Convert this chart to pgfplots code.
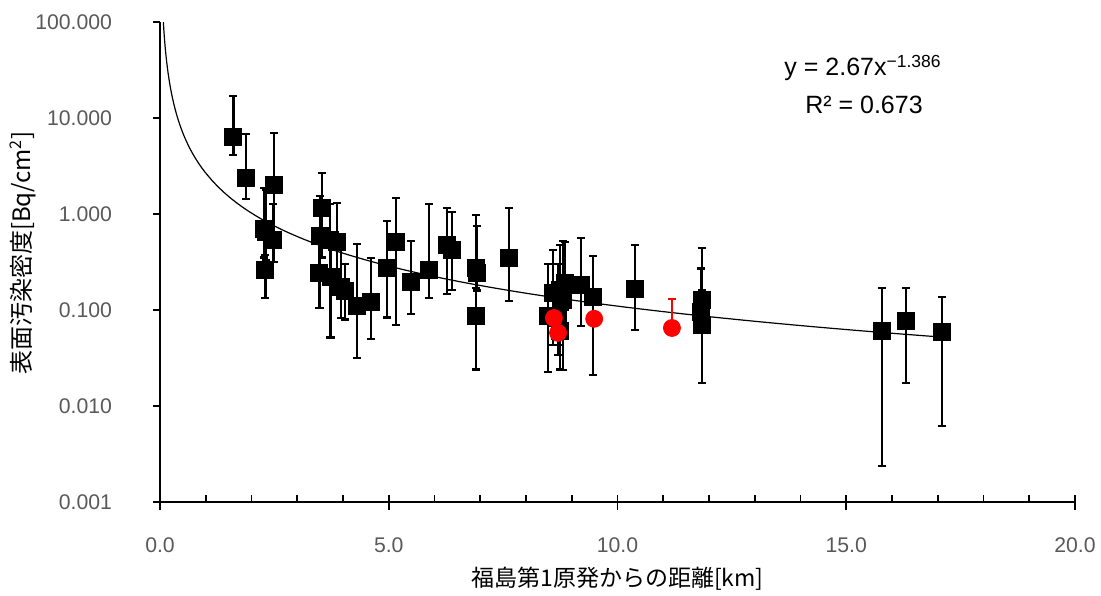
\documentclass[border=0pt]{standalone}
\usepackage{pgfplots}
\pgfplotsset{compat=1.18}
\usepackage{pgfplotstable}
\usepackage{fontspec}
\setmainfont{Liberation Sans}
\newfontfamily\jpfont{Noto Sans CJK JP}
\definecolor{ticklab}{HTML}{595959}

% distance [km], surface density [Bq/cm2], upper and lower end of the bar
\pgfplotstableread{
x     y      top    bot
1.60  6.34   16.9   4.12
1.88  2.37   6.81   1.43
2.49  2.00   7.00   0.316
2.27  0.70   1.87   0.35
2.32  0.65   1.80   0.33
2.47  0.536  1.27   0.316
2.30  0.261  0.374  0.133
3.54  1.155  2.67   0.35
3.50  0.59   1.54   0.105
3.72  0.536  1.27   0.052
3.87  0.511  1.30   0.20
3.48  0.243  0.59   0.105
3.74  0.221  0.47   0.052
3.96  0.174  0.45   0.0825
4.04  0.158  0.30   0.08
4.31  0.110  0.487  0.0316
4.61  0.121  0.348  0.050
4.96  0.274  0.846  0.083
5.16  0.511  1.47   0.070
5.49  0.196  0.523  0.091
5.88  0.260  1.27   0.133
6.27  0.475  1.155  0.147
6.38  0.422  1.05   0.162
6.91  0.274  0.98   0.17
6.93  0.243  0.75   0.16
6.91  0.087  0.30   0.024
7.63  0.348  1.155  0.124
8.48  0.087  0.30   0.0226
8.59  0.150  0.422  0.043
8.74  0.162  0.475  0.024
8.81  0.127  0.523  0.0237
8.70  0.0825 0.30   0.034
8.74  0.060  0.20   0.043
8.85  0.190  0.511  0.10
9.20  0.182  0.562  0.068
9.46  0.137  0.365  0.021
10.38 0.166  0.475  0.062
11.85 0.127  0.443  0.0174
11.83 0.095  0.27   0.060
11.85 0.070  0.16   0.060
15.78 0.0606 0.17   0.00237
16.31 0.077  0.17   0.0174
17.09 0.0592 0.137  0.0062
}\sitedata

\pgfplotstableread{
x     y      top    bot
8.61  0.0825 0.0825 0.0825
8.70  0.0578 0.0578 0.0578
9.49  0.081  0.081  0.081
11.19 0.065  0.130  0.065
}\reddata

\begin{document}
\begin{tikzpicture}
\path[use as bounding box] (0,0) rectangle (550.5pt,297.5pt);
\begin{axis}[
  at={(80pt,46.5pt)}, anchor=south west,
  scale only axis, width=457.5pt, height=240pt,
  xmin=0, xmax=20, ymode=log, ymin=0.001, ymax=100,
  axis x line*=bottom, axis y line*=left,
  axis line style={line width=0.9pt, -},
  xtick={0,5,...,20}, minor x tick num=4,
  xticklabels={0.0,5.0,10.0,15.0,20.0},
  ytick={0.001,0.01,0.1,1,10,100},
  yticklabels={0.001,0.010,0.100,1.000,10.000,100.000},
  yminorticks=false,
  xtick align=inside, ytick align=outside,
  major tick length=3.5pt, minor tick length=3.5pt,
  tick style={line width=0.9pt, black},
  extra x ticks={0,5,10,15,20}, extra x tick labels={},
  extra x tick style={xtick align=outside, major tick length=4pt},
  ticklabel style={font=\fontsize{10.6}{13}\selectfont, text=ticklab},
  yticklabel style={xshift=-17pt},
  xticklabel style={yshift=-14.5pt},
]
% power-law fit
\addplot[black, line width=0.6pt, no marks, domain=0.0733:1, samples=120] {2.67*x^(-1.386)};
\addplot[black, line width=0.6pt, no marks, domain=1:17.1, samples=120] {2.67*x^(-1.386)};
% measured sites: bars, caps at both ends, then the squares
\addplot[only marks, mark=none, black,
  error bars/.cd, y dir=both, y explicit, error mark=none,
  error bar style={line width=1.3pt, black}]
  table[x=x, y=y,
        y error plus expr=\thisrow{top}-\thisrow{y},
        y error minus expr=\thisrow{y}-\thisrow{bot}]{\sitedata};
\addplot[only marks, mark=-, mark size=2pt, black, mark options={line width=1.3pt}]
  table[x=x, y=top]{\sitedata};
\addplot[only marks, mark=-, mark size=2pt, black, mark options={line width=1.3pt}]
  table[x=x, y=bot]{\sitedata};
\addplot[only marks, mark=square*, mark size=4.25pt, black]
  table[x=x, y=y]{\sitedata};
% sites marked in red
\addplot[only marks, mark=none, red,
  error bars/.cd, y dir=both, y explicit, error mark=none,
  error bar style={line width=0.6pt, red}]
  table[x=x, y=y,
        y error plus expr=\thisrow{top}-\thisrow{y},
        y error minus expr=\thisrow{y}-\thisrow{bot}]{\reddata};
\addplot[only marks, mark=-, mark size=1.8pt, red, mark options={line width=0.6pt}]
  table[x=x, y=top]{\reddata};
\addplot[only marks, mark=*, mark size=4.25pt, red]
  table[x=x, y=y]{\reddata};
\end{axis}
\node[font=\fontsize{12.5}{14}\selectfont] at (431.5pt,263.5pt) {y = 2.67x\textsuperscript{−1.386}};
\node[font=\fontsize{12.5}{14}\selectfont] at (432pt,245pt) {R² = 0.673};
\node[font=\jpfont\fontsize{12}{14}\selectfont, rotate=90] at (11.5pt,171pt) {表面汚染密度[Bq/cm\textsuperscript{2}]};
\node[font=\jpfont\fontsize{11.5}{13}\selectfont] at (308.75pt,8pt) {福島第1原発からの距離[km]};
\end{tikzpicture}
\end{document}
